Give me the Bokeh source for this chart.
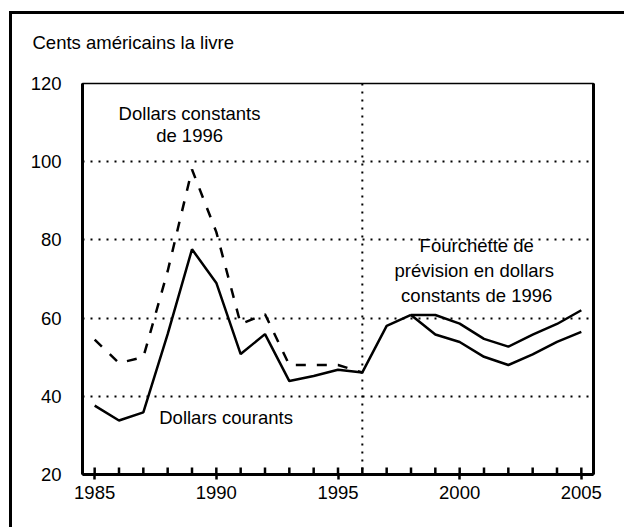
from bokeh.plotting import figure
from bokeh.models import (FixedTicker, SingleIntervalTicker, LinearAxis,
                          Span, Label, Range1d)
from bokeh.embed import file_html
from bokeh.resources import INLINE

# ---- data ----
years_current = [1985, 1986, 1987, 1988, 1989, 1990, 1991, 1992, 1993, 1994, 1995, 1996, 1997, 1998]
current_dollars = [37.6, 33.8, 35.9, 55.9, 77.6, 69.0, 50.8, 55.9, 43.9, 45.2, 46.8, 46.1, 58.0, 60.8]

years_constant = [1985, 1986, 1987, 1988, 1989, 1990, 1991, 1992, 1993, 1994, 1995, 1996]
constant_1996_dollars = [54.5, 48.5, 50.0, 72.0, 98.0, 82.0, 58.5, 61.0, 48.0, 48.0, 48.0, 46.1]

years_forecast = [1998, 1999, 2000, 2001, 2002, 2003, 2004, 2005]
forecast_high = [60.8, 60.8, 58.6, 54.7, 52.7, 55.8, 58.5, 62.0]
forecast_low = [60.8, 55.8, 53.9, 50.1, 48.0, 50.7, 53.9, 56.5]

y_ticks = [20, 40, 60, 80, 100, 120]
grid_values = [40, 60, 80, 100]
forecast_start = 1996
x_min, x_max = 1984.5, 2005.5
y_min, y_max = 20, 120

FONT = "Liberation Sans"
FS = "18.5px"

W, H = 624, 527
BL, BR, BT, BB = 82, 31, 83, 53

p = figure(width=W, height=H, output_backend="svg", toolbar_location=None,
           x_range=Range1d(x_min, x_max), y_range=Range1d(y_min, y_max),
           min_border_left=BL, min_border_right=BR, min_border_top=BT, min_border_bottom=BB,
           background_fill_color="white", border_fill_color=None,
           title="Cents américains la livre")

# outer frame of the figure (left and top edges), drawn by CSS
p.styles = {"box-shadow": "inset 9px 11px 0 0 white, inset 12px 14px 0 0 black"}

p.title.text_font = FONT
p.title.text_font_size = FS
p.title.text_font_style = "normal"
p.title.text_color = "black"
p.title.align = "left"
p.title.vertical_align = "top"
p.title.offset = -50
p.title.standoff = 58

p.outline_line_color = "black"
p.outline_line_width = 1.5

# axes
p.xaxis.ticker = SingleIntervalTicker(interval=5, num_minor_ticks=5)
p.xaxis.axis_line_width = 3
p.xaxis.major_tick_line_width = 2.5
p.xaxis.minor_tick_line_color = None
p.xaxis.major_tick_in = 0
p.xaxis.major_tick_out = 5
p.xaxis.major_label_standoff = 6
p.xaxis.major_label_text_font = FONT
p.xaxis.major_label_text_font_size = FS
p.xaxis.major_label_text_color = "black"

p.yaxis.ticker = FixedTicker(ticks=y_ticks)
p.yaxis.axis_line_width = 3
p.yaxis.major_tick_in = 0
p.yaxis.major_tick_out = 0
p.yaxis.minor_tick_line_color = None
p.yaxis.major_label_standoff = 21
p.yaxis.major_label_text_font = FONT
p.yaxis.major_label_text_font_size = FS
p.yaxis.major_label_text_color = "black"

right_axis = LinearAxis(ticker=FixedTicker(ticks=[]), axis_line_width=3,
                        major_tick_line_color=None, minor_tick_line_color=None,
                        major_label_text_font_size="0px")
p.add_layout(right_axis, "right")

# inward year ticks on the x axis (one per year)
tick_years = list(range(1985, 2006))
px_per_unit = (H - BT - BB) / (y_max - y_min)
tick_len = 7 / px_per_unit
p.segment(x0=tick_years, y0=[y_min] * len(tick_years), x1=tick_years,
          y1=[y_min + tick_len] * len(tick_years), line_color="black", line_width=2.5)

# grid
p.xgrid.grid_line_color = None
p.ygrid.ticker = FixedTicker(ticks=grid_values)
p.ygrid.grid_line_color = "black"
p.ygrid.grid_line_width = 2
p.ygrid.grid_line_dash = "2 6"

p.add_layout(Span(location=forecast_start, dimension="height", line_color="black",
                  line_width=2, line_dash="2 6"))

# lines
p.line(years_constant, constant_1996_dollars, line_color="black", line_width=2.5, line_dash="10 11")
p.line(years_current, current_dollars, line_color="black", line_width=2.5)
p.line(years_forecast, forecast_high, line_color="black", line_width=2.5)
p.line(years_forecast, forecast_low, line_color="black", line_width=2.5)

# texts
def add_text(x, y, t, align="center"):
    p.add_layout(Label(x=x, y=y, text=t, text_align=align, text_baseline="alphabetic",
                       text_font=FONT, text_font_size=FS, text_color="black"))

add_text(1988.9, 112.4, "Dollars constants")
add_text(1988.9, 106.8, "de 1996")
add_text(1990.4, 34.6, "Dollars courants")
add_text(2000.7, 78.5, "Fourchette de")
add_text(2000.6, 72.1, "prévision en dollars")
add_text(2000.7, 65.9, "constants de 1996")

open("out.html", "w").write(file_html(p, INLINE))
